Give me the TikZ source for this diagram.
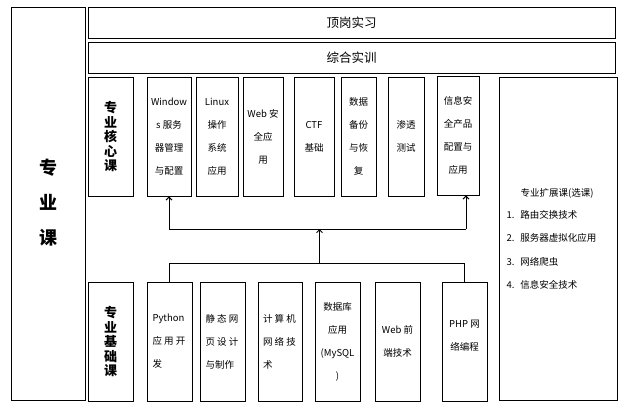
\documentclass[tikz,border=0pt]{standalone}
\usepackage{fontspec}
\setmainfont{Noto Sans CJK SC}
\usetikzlibrary{arrows.meta}

\begin{document}
\begin{tikzpicture}[x=1pt, y=-1pt,
    box/.style={draw, line width=0.8pt, inner sep=0pt, align=center,
      font=\fontsize{9.5}{23}\selectfont},
    core/.style={box, minimum height=119},
    title/.style={font=\fontsize{13}{14.5}\selectfont\bfseries, align=center},
    link/.style={line width=1pt},
    up/.style={link, -{Straight Barb[length=3pt, width=6pt, line width=1pt]}}]
  \useasboundingbox (0,0) rectangle (639,402);

  % outer frames
  \node[box, minimum width=74, minimum height=393] (major) at (48,203.5) {};
  \node[font=\fontsize{18}{35}\selectfont\bfseries, align=center] at (48,203) {专\\业\\课};
  \node[box, minimum width=527, minimum height=31, font=\fontsize{12.5}{14}\selectfont] (intern) at (351.5,22.5) {顶岗实习};
  \node[box, minimum width=527, minimum height=31, font=\fontsize{12.5}{14}\selectfont] (train) at (351.5,57.5) {综合实训};

  % core courses
  \node[core, minimum width=45] (hexin) at (110.5,136.5) {};
  \node[title] at (hexin) {专\\业\\核\\心\\课};
  \node[core, minimum width=44] (win) at (169,136.5) {Window\\s 服务\\器管理\\与配置};
  \node[core, minimum width=42] (linux) at (217,136.5) {Linux\\操作\\系统\\应用};
  \node[core, minimum width=40] (websec) at (263,136.5) {Web 安\\全应\\用};
  \node[core, minimum width=40] (ctf) at (314,136.5) {CTF\\基础};
  \node[core, minimum width=35] (backup) at (358.5,136.5) {数据\\备份\\与恢\\复};
  \node[core, minimum width=36] (pentest) at (406,136.5) {渗透\\测试};
  \node[core, minimum width=42] (infosec) at (458,135.5) {信息安\\全产品\\配置与\\应用};

  % elective courses
  \node[box, minimum width=118, minimum height=323] (ext) at (558,238.5) {};
  \node[font=\fontsize{9.5}{11}\selectfont] at (557,193) {专业扩展课(选课)};
  \foreach \n/\t [count=\i] in {1/路由交换技术, 2/服务器虚拟化应用, 3/网络爬虫, 4/信息安全技术} {
    \node[font=\fontsize{9.5}{11}\selectfont, anchor=west] at (503,191.5+23.3*\i) {\n.\hspace{6pt}\t};
  }

  % basic courses
  \node[core, minimum width=45] (jichu) at (110.5,341.5) {};
  \node[title] at (jichu) {专\\业\\基\\础\\课};
  \node[core, minimum width=45] (py) at (169.5,341.5) {\parbox{34pt}{Python\\应 用 开\\发}};
  \node[core, minimum width=45] (static) at (222.5,341.5) {\parbox{34pt}{静 态 网\\页 设 计\\与制作}};
  \node[core, minimum width=44] (net) at (280,341.5) {\parbox{34pt}{计 算 机\\网 络 技\\术}};
  \node[core, minimum width=45] (db) at (337.5,341.5) {数据库\\应用\\(MySQL\\)};
  \node[core, minimum width=45] (front) at (397.5,341.5) {Web 前\\端技术};
  \node[core, minimum width=45] (php) at (464.5,341.5) {};
  \node[box, draw=none] at (464.5,336) {PHP 网\\络编程};

  % connectors
  \coordinate (lowM) at (319.5,263);
  \coordinate (upL) at (win.south |- 0,229);
  \coordinate (upR) at (466,229);
  \coordinate (upM) at (319.5,229);
  \draw[link] (py.north) -- (py.north |- lowM) -- (php.north |- lowM) -- (php.north);
  \draw[up] (lowM) -- (upM);
  \draw[link] (upL) -- (upR);
  \draw[up] (upL) -- (win.south);
  \draw[up] (upR) -- (upR |- infosec.south);
\end{tikzpicture}
\end{document}
